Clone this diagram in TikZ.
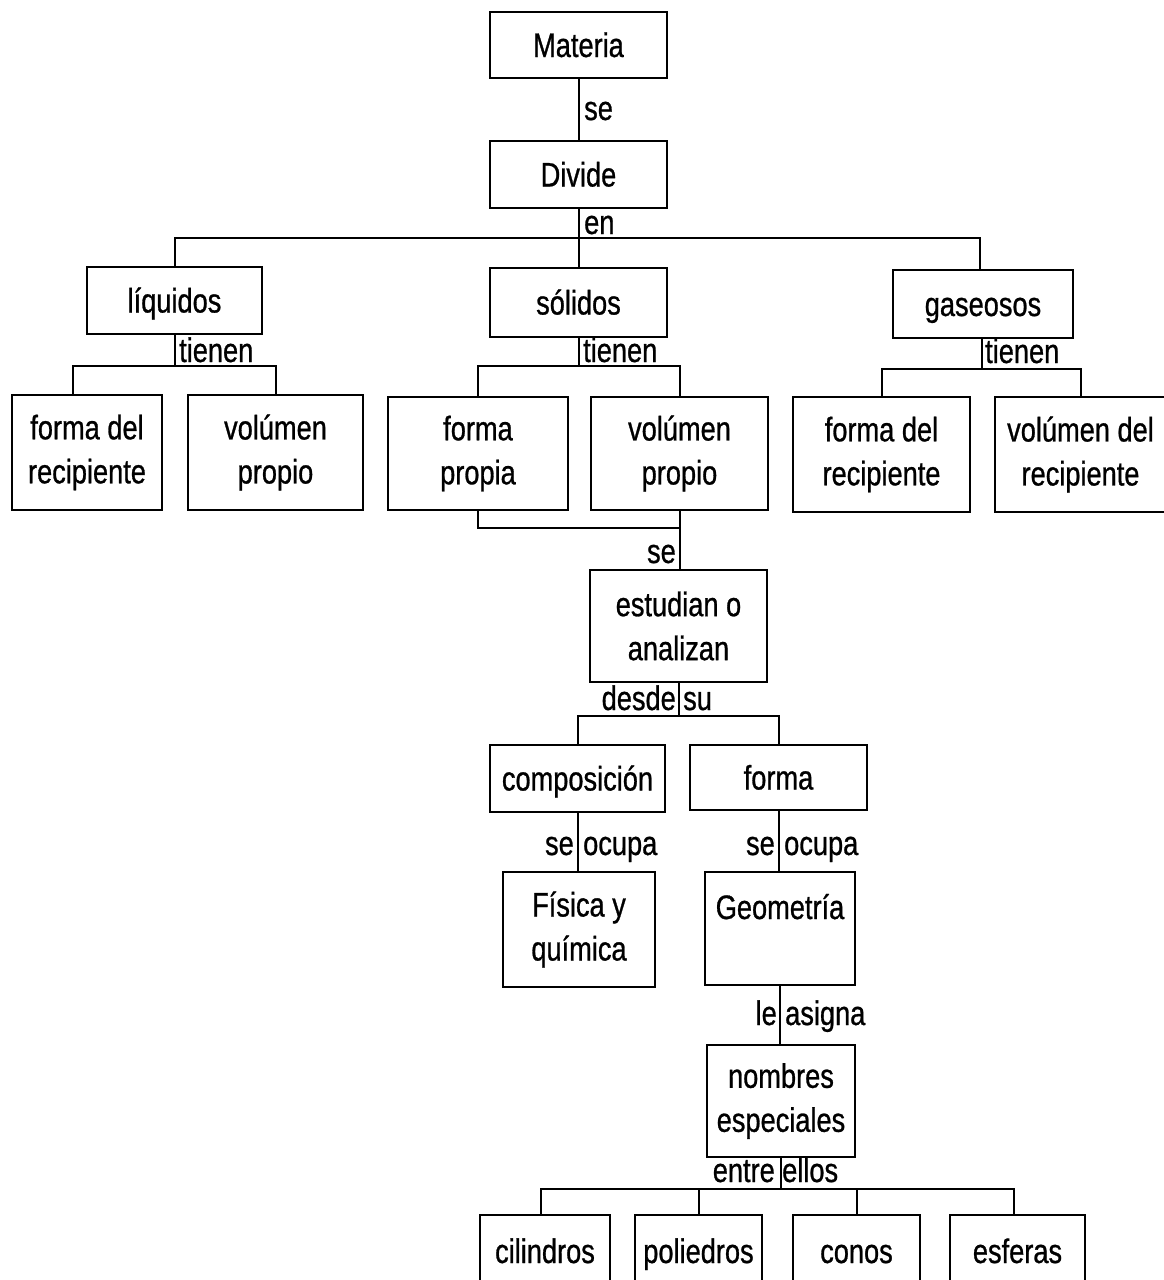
\documentclass[tikz,border=0pt]{standalone}
\usepackage{fontspec}
\setmainfont{Liberation Sans}[FakeStretch=0.8,FakeBold=0.8]
\begin{document}
\begin{tikzpicture}[x=1pt,y={(0,-1pt)},
  txt/.style={font=\fontsize{34}{44}\selectfont},
  box/.style={txt,draw=black,line width=2pt,inner sep=0pt,align=center},
  one/.style={text height=30pt,text depth=6pt},
  lbl/.style={txt,inner sep=0pt},
  link/.style={draw=black,line width=2pt}]
\useasboundingbox (0,0) rectangle (1163,1280);

% concept boxes
\node[box,one,minimum width=177,minimum height=66] (materia) at (578.5,45) {Materia};
\node[box,one,minimum width=177,minimum height=67] (divide) at (578.5,174.5) {Divide};
\node[box,one,minimum width=175,minimum height=67] (liq) at (174.5,300.5) {líquidos};
\node[box,one,minimum width=177,minimum height=69] (sol) at (578.5,302.5) {sólidos};
\node[box,one,minimum width=180,minimum height=68] (gas) at (983,304) {gaseosos};

\node[box,minimum width=150,minimum height=115] (fdr1) at (87,452.5) {forma del\\recipiente};
\node[box,minimum width=175,minimum height=115] (vp1) at (275.5,452.5) {volúmen\\propio};
\node[box,minimum width=180,minimum height=113] (fp) at (478,453.5) {forma\\propia};
\node[box,minimum width=177,minimum height=113] (vp2) at (679.5,453.5) {volúmen\\propio};
\node[box,minimum width=177,minimum height=115] (fdr2) at (881.5,454.5) {forma del\\recipiente};
\node[box,minimum width=171,minimum height=115] (vdr) at (1080.5,454.5) {volúmen del\\recipiente};

\node[box,minimum width=177,minimum height=112] (est) at (678.5,626) {estudian o\\analizan};
\node[box,one,minimum width=175,minimum height=67] (comp) at (577.5,778.5) {composición};
\node[box,one,minimum width=177,minimum height=65] (forma) at (778.5,777.5) {forma};
\node[box,minimum width=152,minimum height=115] (fis) at (579,929.5) {Física y\\química};
\node[box,minimum width=150,minimum height=113] (geo) at (780,928.5) {Geometría\\\mbox{}};
\node[box,minimum width=148,minimum height=112] (nom) at (781,1101) {nombres\\especiales};

\node[box,one,minimum width=130,minimum height=72] (cil) at (545,1251) {cilindros};
\node[box,one,minimum width=127,minimum height=72] (pol) at (698.5,1251) {poliedros};
\node[box,one,minimum width=127,minimum height=72] (con) at (856.5,1251) {conos};
\node[box,one,minimum width=135,minimum height=72] (esf) at (1017.5,1251) {esferas};

% connectors
\draw[link] (materia.south) -- (divide.north);
\draw[link] (divide.south) -- (sol.north);
\coordinate (busA) at (578.5,238);
\draw[link] (liq.north) |- (busA) -| ([xshift=-3pt]gas.north);

\draw[link] (liq.south) -- ++(0,31) coordinate (jl);
\draw[link] ([xshift=-14pt]fdr1.north) |- (jl) -| (vp1.north);
\draw[link] (sol.south) -- ++(0,28) coordinate (js);
\draw[link] (fp.north) |- (js) -| (vp2.north);
\draw[link] ([xshift=-1pt]gas.south) -- ++(0,30) coordinate (jg);
\draw[link] (fdr2.north) |- (jg) -| (vdr.north);

\draw[link] (fp.south) -- ++(0,17) -| (vp2.south);
\draw[link] (vp2.south) -- (vp2.south |- est.north);

\draw[link] (est.south) -- ++(0,33) coordinate (je);
\draw[link] (comp.north) |- (je) -| (forma.north);
\draw[link] (comp.south) -- (comp.south |- fis.north);
\draw[link] (forma.south) -- (forma.south |- geo.north);
\draw[link] (geo.south) -- (geo.south |- nom.north);

\draw[link] (nom.south) -- ++(0,31) coordinate (jn);
\draw[link] ([xshift=-4pt]cil.north) |- (jn) -| ([xshift=-4pt]esf.north);
\draw[link] (pol.north) -- (pol.north |- jn);
\draw[link] (con.north) -- (con.north |- jn);

% connector labels
\node[lbl,anchor=base west] (l1) at (584,120) {se};
\node[lbl,anchor=base west] (l2) at (584,234) {en};
\node[lbl,anchor=base west] (l3) at (179,362) {tienen};
\node[lbl,anchor=base west] (l4) at (583,362) {tienen};
\node[lbl,anchor=base west] (l5) at (985,363) {tienen};
\node[lbl,anchor=base east] (l6) at (676,563) {se};
\node[lbl,anchor=base east] (l7) at (676,710) {desde};
\node[lbl,anchor=base west] (l8) at (683,710) {su};
\node[lbl,anchor=base east] (l9) at (574,855) {se};
\node[lbl,anchor=base west] (l10) at (583,855) {ocupa};
\node[lbl,anchor=base east] (l11) at (775,855) {se};
\node[lbl,anchor=base west] (l12) at (784,855) {ocupa};
\node[lbl,anchor=base east] (l13) at (777,1025) {le};
\node[lbl,anchor=base west] (l14) at (785,1025) {asigna};
\node[lbl,anchor=base east] (l15) at (775,1182) {entre};
\node[lbl,anchor=base west] (l16) at (782,1182) {ellos};
\end{tikzpicture}
\end{document}
